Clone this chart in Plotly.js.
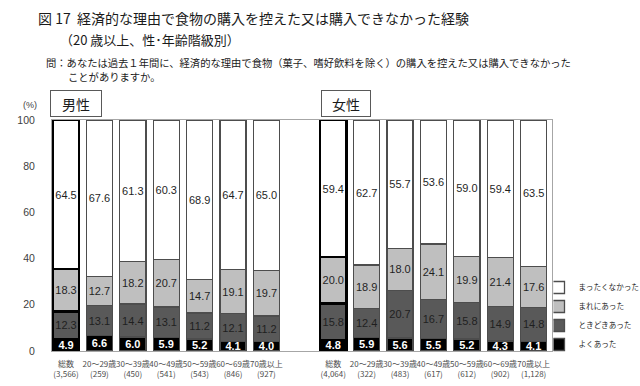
<!DOCTYPE html>
<html>
<head>
<meta charset="utf-8">
<script src="https://cdn.plot.ly/plotly-3.0.1.min.js"></script>
<style>html,body{margin:0;padding:0;background:#fff;}#chart{width:640px;height:386px;}</style>
</head>
<body>
<div id="chart"></div>
<script>
// ---- data ----
const categories = ['総数', '20～29歳', '30～39歳', '40～49歳', '50～59歳', '60～69歳', '70歳以上'];
const maleN   = ['3,566', '259', '450', '541', '543', '846', '927'];
const femaleN = ['4,064', '322', '483', '617', '612', '902', '1,128'];
const seriesNames = ['よくあった', 'ときどきあった', 'まれにあった', 'まったくなかった'];

const maleOften     = [4.9, 6.6, 6.0, 5.9, 5.2, 4.1, 4.0];
const maleSometimes = [12.3, 13.1, 14.4, 13.1, 11.2, 12.1, 11.2];
const maleRarely    = [18.3, 12.7, 18.2, 20.7, 14.7, 19.1, 19.7];
const maleNever     = [64.5, 67.6, 61.3, 60.3, 68.9, 64.7, 65.0];

const femaleOften     = [4.8, 5.9, 5.6, 5.5, 5.2, 4.3, 4.1];
const femaleSometimes = [15.8, 12.4, 20.7, 16.7, 15.8, 14.9, 14.8];
const femaleRarely    = [20.0, 18.9, 18.0, 24.1, 19.9, 21.4, 17.6];
const femaleNever     = [59.4, 62.7, 55.7, 53.6, 59.0, 59.4, 63.5];

const groupLabels = ['男性', '女性'];
const yTicks = [0, 20, 40, 60, 80, 100];

// ---- build ----
const maleSeries = [maleOften, maleSometimes, maleRarely, maleNever];
const femaleSeries = [femaleOften, femaleSometimes, femaleRarely, femaleNever];
const fillColors = ['#000000', '#595959', '#bfbfbf', '#ffffff'];
const textColors = ['#ffffff', '#1f1f1f', '#1f1f1f', '#1f1f1f'];

const nCat = categories.length;
const malePos = categories.map((c, i) => i);
const femalePos = categories.map((c, i) => i + nCat + 1);
const allPos = malePos.concat(femalePos);
const tickText = categories.map((c, i) => c + '<br>(' + maleN[i] + ')')
  .concat(categories.map((c, i) => c + '<br>(' + femaleN[i] + ')'));

// point order: list the "総数" bars last so the legend swatch uses a normal outline
const idx = allPos.map((p, i) => i);
const isTotal = i => i % nCat === 0;
const order = idx.filter(i => !isTotal(i)).concat(idx.filter(isTotal));

const numFont = 'Liberation Sans, Arial, sans-serif';
const jpFont = '"Noto Sans CJK JP", sans-serif';

const traces = seriesNames.map((name, s) => {
  const ys = maleSeries[s].concat(femaleSeries[s]);
  return {
    type: 'bar',
    name: name,
    x: order.map(i => allPos[i]),
    y: order.map(i => ys[i]),
    width: 0.78,
    text: order.map(i => ys[i].toFixed(1)),
    texttemplate: s === 0 ? '<b>%{text}</b>' : '%{text}',
    textposition: 'inside',
    insidetextanchor: 'middle',
    textangle: 0,
    constraintext: 'none',
    cliponaxis: false,
    textfont: {family: numFont, size: 11, color: textColors[s]},
    marker: {
      color: fillColors[s],
      line: {
        color: order.map(i => isTotal(i) ? '#000000' : '#4d4d4d'),
        width: order.map(i => isTotal(i) ? 2.5 : 1.3)
      }
    },
    hoverinfo: 'skip'
  };
});

// pixel helpers for layout placement (plot area: x 52..552, y 120..351)
const L = 52, R = 552, T = 120, B = 351;
const px = v => (v - L) / (R - L);
const py = v => (B - v) / (B - T);

const layout = {
  width: 640, height: 386,
  margin: {l: L, r: 640 - R, t: T, b: 386 - B, pad: 0, autoexpand: false},
  paper_bgcolor: '#ffffff', plot_bgcolor: '#ffffff',
  barmode: 'stack',
  showlegend: true,
  font: {family: jpFont, color: '#262626'},
  title: {
    text: '図 17\u00a0\u00a0経済的な理由で食物の購入を控えた又は購入できなかった経験',
    font: {family: jpFont, size: 14, color: '#1a1a1a'},
    xref: 'container', yref: 'container',
    x: 38 / 640, xanchor: 'left',
    y: 1 - 19 / 386, yanchor: 'middle'
  },
  xaxis: {
    range: [-0.42, 14.55],
    tickmode: 'array', tickvals: allPos, ticktext: tickText,
    tickangle: 0,
    tickfont: {family: jpFont, size: 8, color: '#4d4d4d'},
    ticks: '', ticklabelstandoff: 5,
    showgrid: false, zeroline: false,
    showline: true, linecolor: '#a6a6a6', linewidth: 1, mirror: true,
    fixedrange: true
  },
  yaxis: {
    range: [0, 100],
    tickmode: 'array', tickvals: yTicks,
    tickfont: {family: numFont, size: 10.5, color: '#404040'},
    ticks: '', ticklabelstandoff: 14,
    showgrid: false, zeroline: false,
    showline: true, linecolor: '#a6a6a6', linewidth: 1, mirror: true,
    fixedrange: true
  },
  legend: {
    x: px(553.5), y: py(273), xanchor: 'left', yanchor: 'top',
    traceorder: 'reversed',
    indentation: -15,
    font: {family: jpFont, size: 7.6, color: '#262626'},
    bgcolor: 'rgba(0,0,0,0)', itemwidth: 30
  },
  annotations: [
    {text: '（20 歳以上、性･年齢階級別）', xref: 'paper', yref: 'paper', x: px(58), y: py(39),
     xanchor: 'left', yanchor: 'middle', showarrow: false,
     font: {family: jpFont, size: 13, color: '#1a1a1a'}},
    {text: '問：あなたは過去１年間に、経済的な理由で食物（菓子、嗜好飲料を除く）の購入を控えた又は購入できなかった',
     xref: 'paper', yref: 'paper', x: px(44), y: py(62),
     xanchor: 'left', yanchor: 'middle', showarrow: false,
     font: {family: jpFont, size: 10.3, color: '#1a1a1a'}},
    {text: 'ことがありますか。', xref: 'paper', yref: 'paper', x: px(66), y: py(76),
     xanchor: 'left', yanchor: 'middle', showarrow: false,
     font: {family: jpFont, size: 10.3, color: '#1a1a1a'}},
    {text: '(%)', xref: 'paper', yref: 'paper', x: px(39), y: py(105),
     xanchor: 'right', yanchor: 'middle', showarrow: false,
     font: {family: numFont, size: 9, color: '#404040'}},
    {text: groupLabels[0], xref: 'paper', yref: 'paper', x: px(75.5), y: py(103.5),
     xanchor: 'center', yanchor: 'middle', showarrow: false, width: 48, height: 23, borderpad: 1,
     bordercolor: '#595959', borderwidth: 1, bgcolor: '#ffffff',
     font: {family: jpFont, size: 14, color: '#1a1a1a'}},
    {text: groupLabels[1], xref: 'paper', yref: 'paper', x: px(346), y: py(104),
     xanchor: 'center', yanchor: 'middle', showarrow: false, width: 46, height: 23, borderpad: 1,
     bordercolor: '#595959', borderwidth: 1, bgcolor: '#ffffff',
     font: {family: jpFont, size: 14, color: '#1a1a1a'}}
  ]
};

Plotly.newPlot('chart', traces, layout, {displayModeBar: false, staticPlot: true});
</script>
</body>
</html>
